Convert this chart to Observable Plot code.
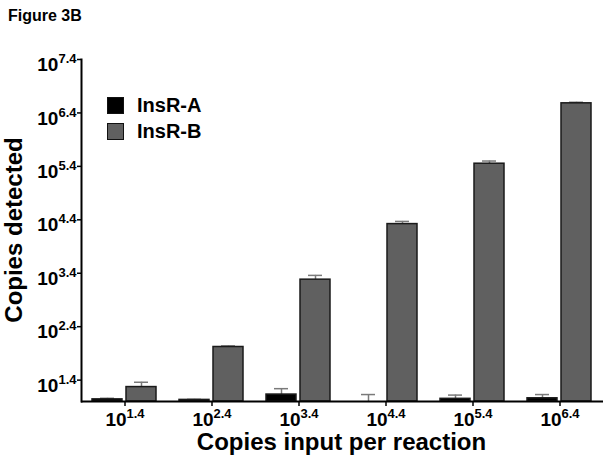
<!DOCTYPE html>
<html>
<head>
<meta charset="utf-8">
<script src="https://cdn.jsdelivr.net/npm/d3@7"></script>
<script src="https://cdn.jsdelivr.net/npm/@observablehq/plot@0.6"></script>
<style>
  html, body { margin: 0; padding: 0; background: #fff; }
  #wrap { position: relative; width: 612px; height: 460px; font-family: "Liberation Sans", Arial, sans-serif; font-weight: bold; color: #000; }
  #wrap svg { position: absolute; left: 0; top: 0; }
  .ov { position: absolute; white-space: nowrap; }
  .sw { position: absolute; width: 17px; height: 17px; box-sizing: border-box; border: 1.5px solid #111; }
</style>
</head>
<body>
<div id="wrap"></div>
<script>
// Input copies per reaction (log10 exponents), one group each
const groups = ["1.4", "2.4", "3.4", "4.4", "5.4", "6.4"];
const series = ["InsR-A", "InsR-B"];
// Copies detected (log10), bar heights
const insrA = [1.04, 1.03, 1.13, 1.0, 1.05, 1.06];
const insrB = [1.27, 2.02, 3.28, 4.32, 5.45, 6.58];
// Upper error bar ends (log10)
const insrAErr = [1.06, 1.04, 1.24, 1.13, 1.12, 1.13];
const insrBErr = [1.36, 2.04, 3.36, 4.37, 5.50, 6.60];
// Y tick labels (log10) and axis extent
const yTicks = ["1.4", "2.4", "3.4", "4.4", "5.4", "6.4", "7.4"];
const yExtent = [1, 7.4];
const colors = ["#000000", "#606060"];

const table = groups.flatMap((g, i) => [
  {group: g, series: series[0], copies: 10 ** insrA[i], err: 10 ** insrAErr[i]},
  {group: g, series: series[1], copies: 10 ** insrB[i], err: 10 ** insrBErr[i]}
]);
const floor = 10 ** yExtent[0];

const chart = Plot.plot({
  width: 612,
  height: 460,
  marginLeft: 79,
  marginRight: 8,
  marginTop: 59,
  marginBottom: 59,
  style: {fontFamily: "'Liberation Sans', Arial, sans-serif", background: "transparent", color: "#000"},
  fx: {domain: groups, paddingInner: 0, paddingOuter: 0, axis: null, label: null},
  x: {domain: series, paddingInner: 0.114, paddingOuter: 0.307, axis: null, label: null},
  y: {type: "log", domain: yExtent.map(e => 10 ** e), axis: null, label: null},
  color: {domain: series, range: colors},
  marks: [
    Plot.ruleX(table, {fx: "group", x: "series", y1: "copies", y2: "err", stroke: "#7a7a7a", strokeWidth: 1.5}),
    Plot.tickY(table, {fx: "group", x: "series", y: "err", stroke: "#7a7a7a", strokeWidth: 1.5, insetLeft: 8, insetRight: 8}),
    Plot.barY(table, {fx: "group", x: "series", y1: floor, y2: "copies", fill: "series", stroke: "#1a1a1a", strokeWidth: 1.5}),
    Plot.ruleY([floor], {stroke: "#000", strokeWidth: 2}),
    Plot.frame({anchor: "left", facetAnchor: "left", stroke: "#000", strokeWidth: 2}),
    Plot.axisY({ticks: yTicks.map(d => 10 ** +d), tickFormat: () => "", tickSize: 4, strokeWidth: 1.5, label: null}),
    Plot.text(yTicks, {y: d => 10 ** +d, text: d => "10^" + d, frameAnchor: "left", facetAnchor: "left",
      textAnchor: "end", dx: -5, dy: 5.5, fontSize: 19, fontWeight: "bold", fill: "#000"}),
    Plot.axisFx({anchor: "bottom", tickFormat: d => "10^" + d, tickSize: 5, tickPadding: 6, strokeWidth: 1.5, fontSize: 19, fontWeight: "bold", label: null})
  ]
});

// Render exponents as superscripts (still real text)
chart.querySelectorAll("text").forEach(t => {
  const m = /^10\^(.+)$/.exec(t.textContent);
  if (!m) return;
  while (t.firstChild) t.removeChild(t.firstChild);
  const base = document.createElementNS("http://www.w3.org/2000/svg", "tspan");
  base.textContent = "10";
  const sup = document.createElementNS("http://www.w3.org/2000/svg", "tspan");
  sup.textContent = m[1];
  sup.setAttribute("dy", "-8");
  sup.setAttribute("font-size", "13");
  t.appendChild(base);
  t.appendChild(sup);
});

const wrap = document.getElementById("wrap");
wrap.appendChild(chart);

function overlay(text, css) {
  const d = document.createElement("div");
  d.className = "ov";
  d.textContent = text;
  Object.assign(d.style, css);
  wrap.appendChild(d);
  return d;
}
overlay("Figure 3B", {left: "8px", top: "8px", fontSize: "16px", lineHeight: "16px"});
overlay("Copies input per reaction", {left: "79px", width: "525px", textAlign: "center", top: "430px", fontSize: "24px", lineHeight: "24px"});
overlay("Copies detected", {left: "-136px", width: "300px", textAlign: "center", top: "218px", fontSize: "24px", lineHeight: "24px", transform: "rotate(-90deg)"});

// Legend
series.forEach((s, i) => {
  const sw = document.createElement("div");
  sw.className = "sw";
  Object.assign(sw.style, {left: "107px", top: (97 + i * 26) + "px", background: colors[i]});
  wrap.appendChild(sw);
  overlay(s, {left: "137px", top: (95 + i * 26) + "px", fontSize: "20px", lineHeight: "20px"});
});
</script>
</body>
</html>
